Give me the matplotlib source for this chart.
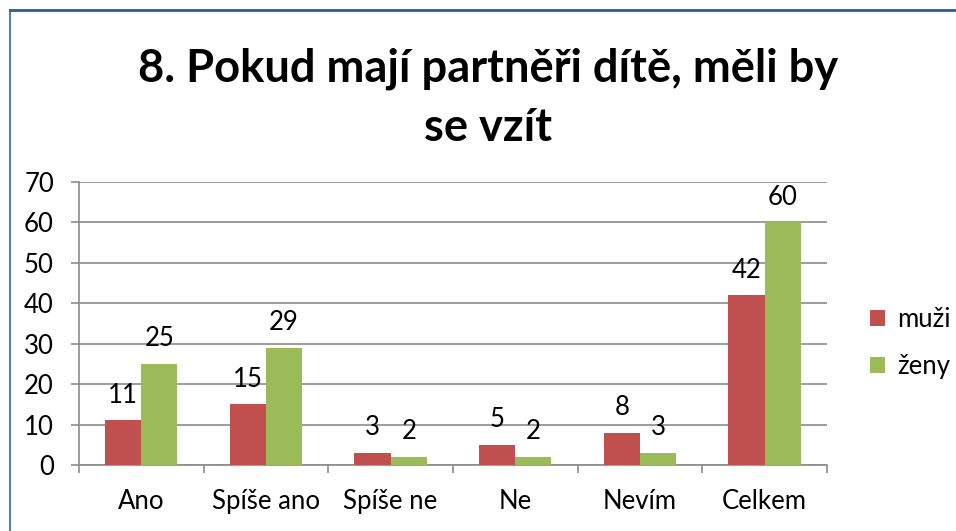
import matplotlib
matplotlib.use("Agg")
import matplotlib.pyplot as plt
import numpy as np
from matplotlib.lines import Line2D

categories = ["Ano", "Spíše ano", "Spíše ne", "Ne", "Nevím", "Celkem"]
muzi = [11, 15, 3, 5, 8, 42]
zeny = [25, 29, 2, 2, 3, 60]
series_names = ["muži", "ženy"]
title = "8. Pokud mají partněři dítě, měli by\nse vzít"

red = "#C0504D"
green = "#9BBB59"
grid_col = "#8C8C8C"
fs = 18.5

plt.rcParams["font.family"] = ["Lato", "DejaVu Sans"]

fig = plt.figure(figsize=(9.56, 5.31), dpi=100)
ax = fig.add_axes([0.0826, 0.1243, 0.7824, 0.5335])

x = np.arange(len(categories))
w = 0.29
b1 = ax.bar(x - w / 2, muzi, w, color=red, label=series_names[0], zorder=3)
b2 = ax.bar(x + w / 2, zeny, w, color=green, label=series_names[1], zorder=3)

for bars, vals in [(b1, muzi), (b2, zeny)]:
    for rect, v in zip(bars, vals):
        ax.annotate(str(v), (rect.get_x() + rect.get_width() / 2, v),
                    xytext=(0, 9), textcoords="offset points",
                    ha="center", va="bottom", fontsize=fs)

ax.set_xlim(-0.5, len(categories) - 0.5)
ax.set_ylim(0, 70)
ax.set_yticks(range(0, 71, 10))
ax.set_xticks(x)
ax.set_xticklabels(categories)
ax.set_xticks(np.arange(-0.5, len(categories)), minor=True)
ax.tick_params(axis="x", which="major", length=0, pad=17, labelsize=fs)
ax.tick_params(axis="x", which="minor", length=6, width=1.2, color=grid_col, direction="out")
ax.tick_params(axis="y", length=6, width=1.2, color=grid_col, pad=12, labelsize=fs)
ax.grid(axis="y", color=grid_col, linewidth=1.2, zorder=0)
for s in ["top", "right"]:
    ax.spines[s].set_visible(False)
for s in ["left", "bottom"]:
    ax.spines[s].set_color(grid_col)
    ax.spines[s].set_linewidth(1.2)

fig.text(0.511, 0.815, title, ha="center", va="center", fontsize=32.6,
         fontweight="bold", linespacing=1.5)

fig.legend(handles=[b1, b2], labels=series_names, loc="center left",
           bbox_to_anchor=(0.91, 0.354), frameon=False, fontsize=fs,
           borderaxespad=0, borderpad=0,
           handlelength=0.6, handleheight=0.6, handletextpad=0.45,
           labelspacing=0.85)

# chart border (only left and top edges are visible)
fig.add_artist(Line2D([0.0105, 0.0105], [0, 0.981], color="#4F81BD", lw=1.5))
fig.add_artist(Line2D([0.0105, 1], [0.981, 0.981], color="#2E5C9A", lw=2))

fig.savefig("out.png", dpi=100)
